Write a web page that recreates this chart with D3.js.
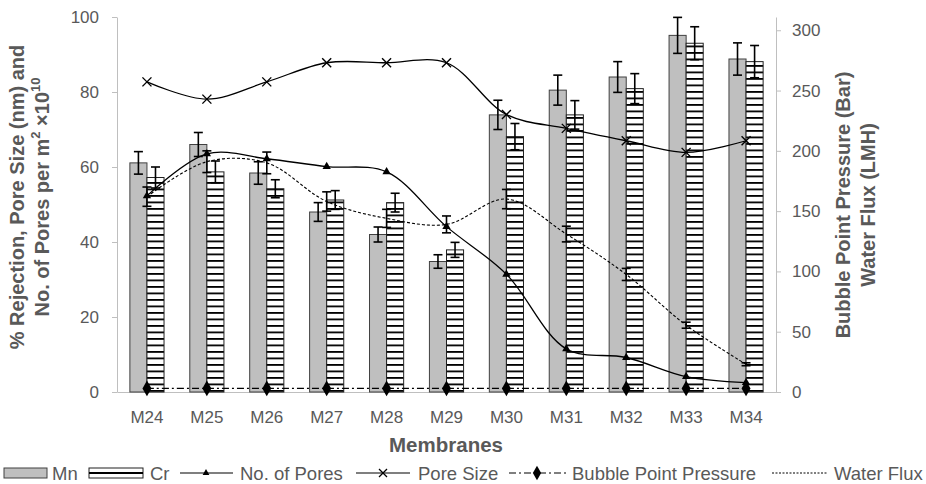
<!DOCTYPE html>
<html>
<head>
<meta charset="utf-8">
<script src="https://cdn.jsdelivr.net/npm/d3@7"></script>
<style>
  body { margin: 0; background: #fff; }
  svg { font-family: "Liberation Sans", Arial, sans-serif; }
  .axis path, .axis line { stroke: #bfbfbf; }
  .axis text { fill: #595959; font-size: 17px; }
</style>
</head>
<body>
<svg id="chart"></svg>
<script>
var categories = ["M24", "M25", "M26", "M27", "M28", "M29", "M30", "M31", "M32", "M33", "M34"];
var mn = [61.1, 66.0, 58.4, 48.0, 42.0, 34.8, 73.9, 80.5, 84.0, 95.1, 88.8];
var mnErr = [3.0, 3.2, 3.0, 2.5, 2.0, 1.8, 3.9, 4.0, 4.1, 4.8, 4.3];
var cr = [57.2, 58.7, 54.2, 51.2, 50.5, 37.9, 68.1, 73.9, 80.9, 93.0, 88.1];
var crErr = [2.8, 2.9, 2.4, 2.5, 2.5, 2.0, 3.5, 3.8, 4.0, 4.4, 4.3];
var noOfPores = [52.3, 63.5, 62.2, 60.1, 58.7, 44.1, 31.4, 11.5, 9.2, 4.1, 2.5];
var poreSize = [82.7, 78.1, 82.7, 87.8, 87.8, 87.8, 74.0, 70.3, 67.0, 63.9, 67.0];
var bubblePoint = [3, 3, 3, 3, 3, 3, 3, 3, 3, 3, 3];
var waterFlux = [162, 191, 190, 158, 144, 139, 160, 131, 97.5, 55.4, 23];
var waterFluxErr = [8, 9, 9, 8, 7.5, 7, 8, 6.5, 5, 2.5, 1.2];
var leftTicks = [0, 20, 40, 60, 80, 100];
var rightTicks = [0, 50, 100, 150, 200, 250, 300];

var width = 926, height = 484;
var margin = { top: 17, left: 117, right: 150, bottom: 92 };
var plotRight = width - margin.right; // 776
var plotBottom = height - margin.bottom; // 392

var svg = d3.select("#chart").attr("width", width).attr("height", height);

var x = d3.scaleBand()
          .domain(categories)
          .range([margin.left, plotRight])
          .paddingInner(0.43)
          .paddingOuter(0.215);

var xSub = d3.scaleBand()
             .domain(["mn", "cr"])
             .range([0, x.bandwidth()]);

var yLeft = d3.scaleLinear().domain([0, 100]).range([plotBottom, margin.top]);
var yRight = d3.scaleLinear().domain([0, 311]).range([plotBottom, margin.top]);

function cx(i) { return x(categories[i]) + x.bandwidth() / 2; }

// stripe pattern for Cr
var defs = svg.append("defs");
var pat = defs.append("pattern")
  .attr("id", "stripes")
  .attr("patternUnits", "userSpaceOnUse")
  .attr("width", 20).attr("height", 6.5);
pat.append("rect").attr("width", 20).attr("height", 6.5).attr("fill", "#fff");
pat.append("rect").attr("y", 0).attr("width", 20).attr("height", 1.8).attr("fill", "#000");

// axes
svg.append("g").attr("class", "axis")
   .attr("transform", "translate(" + margin.left + ",0)")
   .call(d3.axisLeft(yLeft).tickValues(leftTicks).tickSize(5).tickPadding(13).tickSizeOuter(0));

svg.append("g").attr("class", "axis")
   .attr("transform", "translate(" + plotRight + ",0)")
   .call(d3.axisRight(yRight).tickValues(rightTicks).tickSize(5).tickPadding(11).tickSizeOuter(0));

var xAxis = svg.append("g").attr("class", "axis")
   .attr("transform", "translate(0," + plotBottom + ")")
   .call(d3.axisBottom(x).tickSize(0).tickPadding(19).tickSizeOuter(0));

// bars
var bars = svg.append("g");
bars.selectAll(".mn").data(mn).enter().append("rect")
    .attr("x", function(d, i){ return x(categories[i]) + xSub("mn"); })
    .attr("y", function(d){ return yLeft(d); })
    .attr("width", xSub.bandwidth())
    .attr("height", function(d){ return plotBottom - yLeft(d); })
    .attr("fill", "#bfbfbf").attr("stroke", "#404040").attr("stroke-width", 1);

bars.selectAll(".cr").data(cr).enter().append("rect")
    .attr("x", function(d, i){ return x(categories[i]) + xSub("cr"); })
    .attr("y", function(d){ return yLeft(d); })
    .attr("width", xSub.bandwidth())
    .attr("height", function(d){ return plotBottom - yLeft(d); })
    .attr("fill", "url(#stripes)").attr("stroke", "#202020").attr("stroke-width", 1);

// error bars
function errorBars(vals, errs, scale, xf, cap) {
  var g = svg.append("g").attr("stroke", "#000").attr("stroke-width", 1.6);
  vals.forEach(function(v, i){
    var px = xf(i);
    var y1 = scale(v + errs[i]), y2 = scale(v - errs[i]);
    g.append("line").attr("x1", px).attr("x2", px).attr("y1", y1).attr("y2", y2);
    g.append("line").attr("x1", px - cap).attr("x2", px + cap).attr("y1", y1).attr("y2", y1);
    g.append("line").attr("x1", px - cap).attr("x2", px + cap).attr("y1", y2).attr("y2", y2);
  });
}

// lines
var curve = d3.curveCatmullRom.alpha(0.5);
function drawLine(vals, scale, dash, sw) {
  var line = d3.line().curve(curve)
    .x(function(d, i){ return cx(i); })
    .y(function(d){ return scale(d); });
  svg.append("path").datum(vals).attr("d", line)
     .attr("fill", "none").attr("stroke", "#000").attr("stroke-width", sw)
     .attr("stroke-dasharray", dash);
}

drawLine(waterFlux, yRight, "3,2", 1.1);
drawLine(bubblePoint, yRight, "7,3,2,3", 1.1);
drawLine(noOfPores, yLeft, null, 1.3);
drawLine(poreSize, yLeft, null, 1.3);

errorBars(mn, mnErr, yLeft, function(i){ return x(categories[i]) + xSub("mn") + xSub.bandwidth() / 2; }, 4.5);
errorBars(cr, crErr, yLeft, function(i){ return x(categories[i]) + xSub("cr") + xSub.bandwidth() / 2; }, 4.5);
errorBars(waterFlux, waterFluxErr, yRight, cx, 4.5);

// markers
var triangle = d3.symbol().type(d3.symbolTriangle).size(30);
var diamond = d3.symbol().type(d3.symbolDiamond).size(70);
svg.append("g").selectAll("path").data(noOfPores).enter().append("path")
   .attr("d", triangle)
   .attr("transform", function(d, i){ return "translate(" + cx(i) + "," + yLeft(d) + ")"; })
   .attr("fill", "#000");
svg.append("g").selectAll("path").data(bubblePoint).enter().append("path")
   .attr("d", diamond)
   .attr("transform", function(d, i){ return "translate(" + cx(i) + "," + yRight(d) + ")"; })
   .attr("fill", "#000");
var crossG = svg.append("g").attr("stroke", "#000").attr("stroke-width", 1.4);
poreSize.forEach(function(d, i){
  var px = cx(i), py = yLeft(d), s = 4.5;
  crossG.append("line").attr("x1", px - s).attr("x2", px + s).attr("y1", py - s).attr("y2", py + s);
  crossG.append("line").attr("x1", px - s).attr("x2", px + s).attr("y1", py + s).attr("y2", py - s);
});

// axis titles
var titleColor = "#595959";
var lt = svg.append("text")
  .attr("transform", "translate(24,197) rotate(-90)")
  .attr("text-anchor", "middle").attr("font-size", 20).attr("font-weight", "bold").attr("fill", titleColor);
lt.append("tspan").attr("x", 0).attr("dy", 0).text("% Rejection, Pore Size (nm) and");
var l2 = lt.append("tspan").attr("x", 0).attr("dy", 25);
l2.append("tspan").text("No. of Pores per m");
l2.append("tspan").attr("font-size", 13).attr("dy", -9).text("2");
l2.append("tspan").attr("dy", 9).text(" \u00d710");
l2.append("tspan").attr("font-size", 13).attr("dy", -9).text("10");

var rt = svg.append("text")
  .attr("transform", "translate(850,205) rotate(-90)")
  .attr("text-anchor", "middle").attr("font-size", 20).attr("font-weight", "bold").attr("fill", titleColor);
rt.append("tspan").attr("x", 0).attr("dy", 0).text("Bubble Point Pressure (Bar)");
rt.append("tspan").attr("x", 0).attr("dy", 25).text("Water Flux (LMH)");

svg.append("text").attr("x", 446).attr("y", 452)
   .attr("text-anchor", "middle").attr("font-size", 20.5).attr("font-weight", "bold")
   .attr("fill", titleColor).text("Membranes");

// legend
var leg = svg.append("g").attr("font-size", 18.5).attr("fill", titleColor);
var ly = 473;
leg.append("rect").attr("x", 4).attr("y", ly - 5).attr("width", 43).attr("height", 10)
   .attr("fill", "#bfbfbf").attr("stroke", "#404040");
leg.append("text").attr("x", 52).attr("y", ly + 6.5).text("Mn");

leg.append("rect").attr("x", 89).attr("y", ly - 5).attr("width", 54).attr("height", 10)
   .attr("fill", "#fff").attr("stroke", "#202020");
leg.append("line").attr("x1", 89).attr("x2", 143).attr("y1", ly).attr("y2", ly)
   .attr("stroke", "#000").attr("stroke-width", 1.8);
leg.append("text").attr("x", 150).attr("y", ly + 6.5).text("Cr");

leg.append("line").attr("x1", 180).attr("x2", 233).attr("y1", ly).attr("y2", ly)
   .attr("stroke", "#000").attr("stroke-width", 1.2);
leg.append("path").attr("d", d3.symbol().type(d3.symbolTriangle).size(20))
   .attr("transform", "translate(206," + ly + ")").attr("fill", "#000");
leg.append("text").attr("x", 240).attr("y", ly + 6.5).text("No. of Pores");

leg.append("line").attr("x1", 356).attr("x2", 410).attr("y1", ly).attr("y2", ly)
   .attr("stroke", "#000").attr("stroke-width", 1.2);
leg.append("line").attr("x1", 379).attr("x2", 387).attr("y1", ly - 4).attr("y2", ly + 4)
   .attr("stroke", "#000").attr("stroke-width", 1.3);
leg.append("line").attr("x1", 379).attr("x2", 387).attr("y1", ly + 4).attr("y2", ly - 4)
   .attr("stroke", "#000").attr("stroke-width", 1.3);
leg.append("text").attr("x", 418).attr("y", ly + 6.5).text("Pore Size");

leg.append("line").attr("x1", 509).attr("x2", 566).attr("y1", ly).attr("y2", ly)
   .attr("stroke", "#000").attr("stroke-width", 1.1).attr("stroke-dasharray", "7,3,2,3");
leg.append("path").attr("d", d3.symbol().type(d3.symbolDiamond).size(60))
   .attr("transform", "translate(537," + ly + ")").attr("fill", "#000");
leg.append("text").attr("x", 572).attr("y", ly + 6.5).text("Bubble Point Pressure");

leg.append("line").attr("x1", 772).attr("x2", 827).attr("y1", ly).attr("y2", ly)
   .attr("stroke", "#000").attr("stroke-width", 1).attr("stroke-dasharray", "2,1.5");
leg.append("text").attr("x", 834).attr("y", ly + 6.5).text("Water Flux");
</script>
</body>
</html>
